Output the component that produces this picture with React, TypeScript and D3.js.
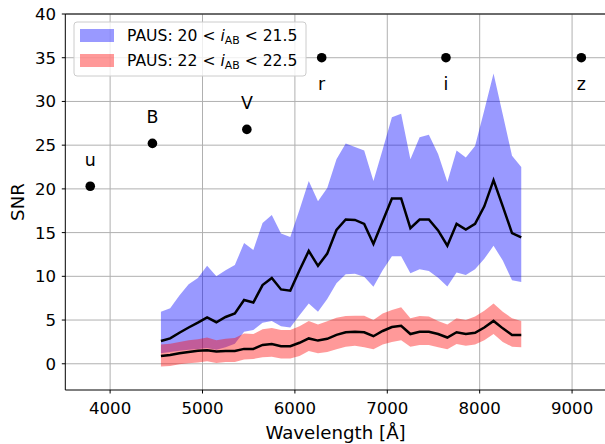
import React from "react";
import * as d3 from "d3";

// PAUS narrow-band centres (Å)
const wavelengths = [
  4550, 4650, 4750, 4850, 4950, 5050, 5150, 5250, 5350, 5450,
  5550, 5650, 5750, 5850, 5950, 6050, 6150, 6250, 6350, 6450,
  6550, 6650, 6750, 6850, 6950, 7050, 7150, 7250, 7350, 7450,
  7550, 7650, 7750, 7850, 7950, 8050, 8150, 8250, 8350, 8450,
];

// bright sample: 20 < i_AB < 21.5
const brightMedian = [
  2.6, 2.9, 3.55, 4.15, 4.7, 5.3, 4.75, 5.35, 5.75, 7.3,
  7.0, 9.0, 9.8, 8.5, 8.35, 10.7, 12.9, 11.2, 12.6, 15.3,
  16.5, 16.45, 16.0, 13.7, 16.3, 18.9, 18.9, 15.5, 16.5, 16.5,
  15.25, 13.5, 16.0, 15.35, 16.0, 18.0, 21.0, 18.0, 14.95, 14.45,
];
const brightUpper = [
  5.95, 6.35, 7.8, 9.1, 9.8, 11.2, 10.0, 10.7, 11.3, 13.8,
  13.0, 16.1, 17.0, 14.9, 14.5, 17.6, 20.9, 18.6, 20.1, 23.4,
  25.2, 24.8, 24.4, 20.9, 24.5, 28.2, 28.6, 23.4, 25.9, 26.2,
  24.0, 20.8, 24.4, 23.6, 24.9, 29.0, 33.2, 28.5, 23.8, 22.5,
];
const brightLower = [
  1.2, 1.35, 1.5, 1.6, 1.7, 1.8, 1.6, 1.9, 2.3, 3.65,
  3.85, 4.7, 4.9, 4.3, 4.15, 5.55, 6.9, 5.95, 7.4, 9.2,
  10.25, 10.3, 9.95, 8.8, 10.7, 12.3, 12.3, 10.35, 10.8, 10.6,
  9.85, 8.85, 10.45, 10.15, 10.8, 12.0, 13.5, 11.8, 9.55, 9.35,
];

// faint sample: 22 < i_AB < 22.5
const faintMedian = [
  0.9, 1.0, 1.2, 1.35, 1.5, 1.55, 1.4, 1.45, 1.45, 1.7,
  1.7, 2.15, 2.25, 2.0, 2.0, 2.4, 2.9, 2.65, 2.85, 3.3,
  3.6, 3.65, 3.6, 3.15, 3.75, 4.2, 4.35, 3.4, 3.65, 3.65,
  3.4, 3.0, 3.6, 3.4, 3.55, 4.15, 4.9, 4.05, 3.3, 3.3,
];
const faintUpper = [
  2.2, 2.3, 2.5, 2.7, 2.8, 3.0, 2.7, 2.85, 2.95, 3.45,
  3.4, 3.95, 4.1, 3.85, 3.85, 4.3, 4.9, 4.5, 4.85, 5.25,
  5.45, 5.5, 5.5, 5.0, 5.75, 6.15, 6.45, 5.2, 5.45, 5.4,
  4.9, 4.5, 5.2, 5.0, 5.4, 6.05, 6.9, 5.95, 5.2, 4.9,
];
const faintLower = [
  -0.3, -0.25, -0.05, 0.05, 0.15, 0.3, 0.1, 0.2, 0.2, 0.5,
  0.55, 0.75, 0.8, 0.6, 0.6, 0.9, 1.45, 1.2, 1.35, 1.65,
  1.95, 2.05, 1.9, 1.65, 2.2, 2.5, 2.7, 1.95, 2.15, 2.15,
  1.9, 1.65, 2.25, 2.05, 2.2, 2.7, 3.4, 2.5, 1.95, 1.9,
];

// broad-band filters
const broadBands = ["u", "B", "V", "r", "i", "z"];
const broadWavelengths = [3785, 4458, 5480, 6290, 7635, 9100];
const broadSNR = [20.3, 25.2, 26.8, 35.0, 35.0, 35.0];
const broadLabelBelow = [false, false, false, true, true, true];

const xTicks = [4000, 5000, 6000, 7000, 8000, 9000];
const yTicks = [0, 5, 10, 15, 20, 25, 30, 35, 40];

const W = 605;
const H = 444;
const FONT = "DejaVu Sans, sans-serif";

export default function App() {
  const x = d3.scaleLinear().domain([3515, 9365]).range([65.3, 605.8]);
  const y = d3.scaleLinear().domain([-3, 40]).range([390, 14]);
  const [x0, x1] = x.range();
  const [yb, yt] = y.range();

  const idx = d3.range(wavelengths.length);
  const area = (lo: number[], hi: number[]) =>
    d3
      .area<number>()
      .x((i) => x(wavelengths[i]))
      .y0((i) => y(lo[i]))
      .y1((i) => y(hi[i]))(idx) || "";
  const line = (v: number[]) =>
    d3
      .line<number>()
      .x((i) => x(wavelengths[i]))
      .y((i) => y(v[i]))(idx) || "";

  return (
    <svg
      width={W}
      height={H}
      style={{ position: "absolute", left: 0, top: 0, background: "#fff" }}
      fontFamily={FONT}
    >
      <defs>
        <clipPath id="plot">
          <rect x={x0} y={yt} width={x1 - x0} height={yb - yt} />
        </clipPath>
      </defs>

      {/* grid */}
      <g stroke="#b0b0b0" strokeWidth={1}>
        {xTicks.map((t) => (
          <line key={"gx" + t} x1={x(t)} x2={x(t)} y1={yt} y2={yb} />
        ))}
        {yTicks.map((t) => (
          <line key={"gy" + t} x1={x0} x2={x1} y1={y(t)} y2={y(t)} />
        ))}
      </g>

      <g clipPath="url(#plot)">
        <path d={area(brightLower, brightUpper)} fill="#0000ff" fillOpacity={0.4} />
        <path d={area(faintLower, faintUpper)} fill="#ff0000" fillOpacity={0.4} />
        <path d={line(brightMedian)} fill="none" stroke="#000" strokeWidth={2.5} strokeLinejoin="miter" />
        <path d={line(faintMedian)} fill="none" stroke="#000" strokeWidth={2.5} strokeLinejoin="miter" />

        {broadBands.map((b, i) => (
          <circle key={"pt" + b} cx={x(broadWavelengths[i])} cy={y(broadSNR[i])} r={4.8} fill="#000" />
        ))}
      </g>

      {broadBands.map((b, i) => (
        <text
          key={"lb" + b}
          x={x(broadWavelengths[i])}
          y={y(broadSNR[i]) + (broadLabelBelow[i] ? 32 : -20.5)}
          textAnchor="middle"
          fontSize={17.4}
          fill="#000"
        >
          {b}
        </text>
      ))}

      {/* spines */}
      <g stroke="#000" strokeWidth={1} fill="none">
        <line x1={x0} x2={x0} y1={yt} y2={yb} />
        <line x1={x0} x2={x1} y1={yb} y2={yb} />
        <line x1={x0} x2={x1} y1={yt} y2={yt} />
      </g>

      {/* x axis */}
      {xTicks.map((t) => (
        <g key={"tx" + t}>
          <line x1={x(t)} x2={x(t)} y1={yb} y2={yb + 3.5} stroke="#000" />
          <text x={x(t)} y={414.3} textAnchor="middle" fontSize={16.6} fill="#000">
            {t}
          </text>
        </g>
      ))}
      {/* y axis */}
      {yTicks.map((t) => (
        <g key={"ty" + t}>
          <line x1={x0 - 3.5} x2={x0} y1={y(t)} y2={y(t)} stroke="#000" />
          <text x={56} y={y(t)} dy="0.36em" textAnchor="end" fontSize={16.6} fill="#000">
            {t}
          </text>
        </g>
      ))}

      <text x={(x0 + x1) / 2} y={439} textAnchor="middle" fontSize={18.2} fill="#000">
        Wavelength [Å]
      </text>
      <text
        transform={`translate(23.5, ${(yt + yb) / 2}) rotate(-90)`}
        textAnchor="middle"
        fontSize={18.2}
        fill="#000"
      >
        SNR
      </text>

      {/* legend */}
      <g>
        <rect x={74} y={22} width={232} height={54} rx={3} fill="#fff" fillOpacity={0.8} stroke="#cccccc" strokeWidth={1} />
        <rect x={80} y={29} width={34} height={13} fill="#0000ff" fillOpacity={0.4} />
        <rect x={80} y={54} width={34} height={13} fill="#ff0000" fillOpacity={0.4} />
        <text x={127} y={41} fontSize={15.6} fill="#000">
          <tspan>PAUS: 20 &lt; </tspan>
          <tspan fontStyle="italic">i</tspan>
          <tspan fontSize={10.9} dy={3}>AB</tspan>
          <tspan dy={-3}> &lt; 21.5</tspan>
        </text>
        <text x={127} y={66} fontSize={15.6} fill="#000">
          <tspan>PAUS: 22 &lt; </tspan>
          <tspan fontStyle="italic">i</tspan>
          <tspan fontSize={10.9} dy={3}>AB</tspan>
          <tspan dy={-3}> &lt; 22.5</tspan>
        </text>
      </g>
    </svg>
  );
}
